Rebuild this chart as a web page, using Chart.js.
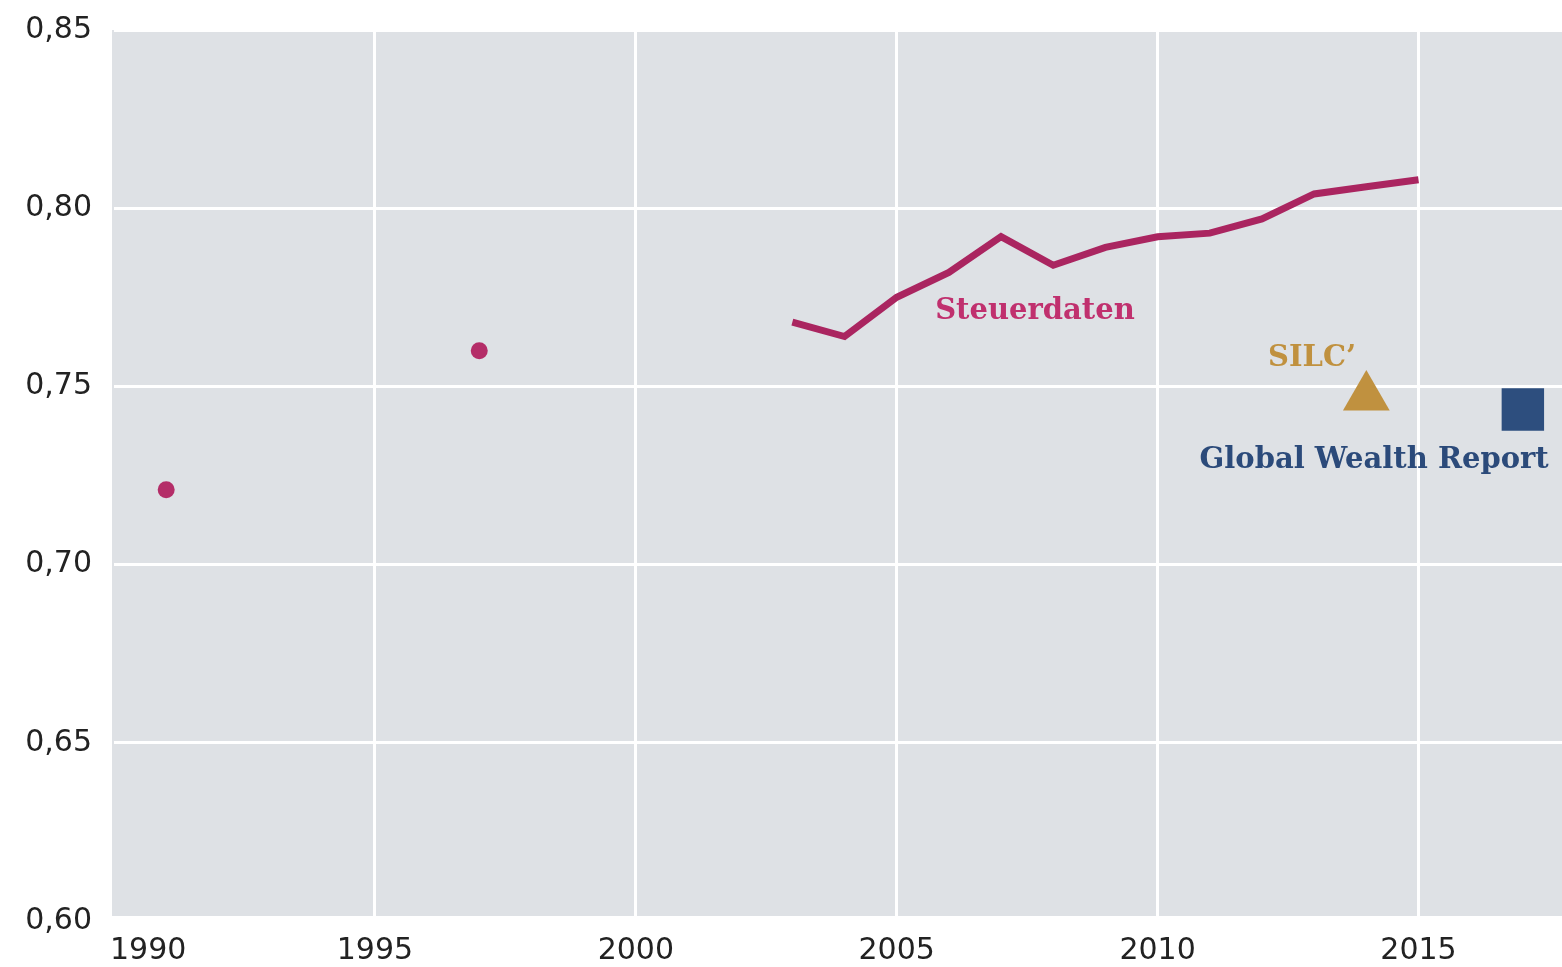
<!DOCTYPE html>
<html>
<head>
<meta charset="utf-8">
<script src="https://cdn.jsdelivr.net/npm/chart.js@4.4.1/dist/chart.umd.min.js"></script>
<style>
  html, body { margin: 0; padding: 0; background: #ffffff; overflow: hidden; }
  #wrap { width: 1562px; height: 967px; position: relative; overflow: hidden; }
  #c { position: absolute; left: 0; top: -10px; }
</style>
</head>
<body>
<div id="wrap"><canvas id="c" width="1592" height="977"></canvas></div>
<script>
// ---- Data ----
const steuerYears  = [2003, 2004, 2005, 2006, 2007, 2008, 2009, 2010, 2011, 2012, 2013, 2014, 2015];
const steuerValues = [0.768, 0.764, 0.775, 0.782, 0.792, 0.784, 0.789, 0.792, 0.793, 0.797, 0.804, 0.806, 0.808];
const earlyYears   = [1991, 1997];
const earlyValues  = [0.721, 0.760];
const silcYears    = [2014];
const silcValues   = [0.747];
const gwrYears     = [2017];
const gwrValues    = [0.7435];
const xTickValues  = [1990, 1995, 2000, 2005, 2010, 2015];
const xTickLabels  = ['1990', '1995', '2000', '2005', '2010', '2015'];
const yTickValues  = [0.60, 0.65, 0.70, 0.75, 0.80, 0.85];
const yTickLabels  = ['0,60', '0,65', '0,70', '0,75', '0,80', '0,85'];
const annotations  = [
  { text: 'Steuerdaten',           x: 2007.65, y: 0.7710, color: '#c0306e' },
  { text: 'SILC\u2019',            x: 2012.96, y: 0.7579, color: '#c0913f' },
  { text: 'Global Wealth Report',  x: 2014.15, y: 0.7293, color: '#2b4a7a' }
];

const toXY = (xs, ys) => xs.map((x, i) => ({ x: x, y: ys[i] }));

const bgPlugin = {
  id: 'bg',
  beforeDraw(chart) {
    const a = chart.chartArea, ctx = chart.ctx;
    ctx.save();
    ctx.fillStyle = '#dee1e5';
    ctx.fillRect(a.left - 2, a.top, a.right - a.left + 2, a.bottom - a.top - 5);
    ctx.restore();
  }
};

const labelPlugin = {
  id: 'labels',
  afterDraw(chart) {
    const ctx = chart.ctx, xs = chart.scales.x, ys = chart.scales.y;
    ctx.save();
    // x tick labels
    ctx.font = '30px "DejaVu Sans", sans-serif';
    ctx.fillStyle = '#222222';
    ctx.textBaseline = 'middle';
    const labelY = chart.chartArea.bottom + 30;
    xTickValues.forEach((v, i) => {
      const px = xs.getPixelForValue(v);
      if (i === 0) { ctx.textAlign = 'left'; ctx.fillText(xTickLabels[i], px - 4, labelY); }
      else { ctx.textAlign = 'center'; ctx.fillText(xTickLabels[i], px, labelY); }
    });
    // annotations
    ctx.font = 'bold 29px "DejaVu Serif", serif';
    ctx.textAlign = 'center';
    annotations.forEach(a => {
      ctx.fillStyle = a.color;
      ctx.fillText(a.text, xs.getPixelForValue(a.x), ys.getPixelForValue(a.y));
    });
    ctx.restore();
  }
};

new Chart(document.getElementById('c'), {
  type: 'line',
  data: {
    datasets: [
      {
        label: 'Steuerdaten',
        data: toXY(steuerYears, steuerValues),
        borderColor: '#aa2560',
        borderWidth: 7,
        pointRadius: 0,
        tension: 0,
        fill: false
      },
      {
        label: 'Steuerdaten (früher)',
        data: toXY(earlyYears, earlyValues),
        showLine: false,
        pointRadius: 8.5,
        pointBackgroundColor: '#b42d68',
        pointBorderWidth: 0
      },
      {
        label: 'SILC',
        data: toXY(silcYears, silcValues),
        showLine: false,
        pointStyle: 'triangle',
        pointRadius: 27,
        pointBackgroundColor: '#c0913f',
        pointBorderWidth: 0
      },
      {
        label: 'Global Wealth Report',
        data: toXY(gwrYears, gwrValues),
        showLine: false,
        pointStyle: 'rect',
        pointRadius: 30,
        pointBackgroundColor: '#2d4e7e',
        pointBorderWidth: 0
      }
    ]
  },
  options: {
    responsive: false,
    animation: false,
    layout: { padding: { top: 0, right: 0, left: 0, bottom: 0 } },
    plugins: { legend: { display: false }, tooltip: { enabled: false } },
    scales: {
      x: {
        type: 'linear',
        min: 1990,
        max: 2017.75,
        border: { display: false },
        grid: {
          color: (c) => (c.tick && c.tick.value === 1990) ? 'rgba(0,0,0,0)' : '#ffffff',
          lineWidth: 3,
          drawTicks: false
        },
        ticks: { stepSize: 5, includeBounds: false, display: false },
        afterFit(s) { s.height = 46; }
      },
      y: {
        min: 0.60,
        max: 0.85,
        border: { display: false },
        grid: { color: '#ffffff', lineWidth: 3, drawTicks: false },
        ticks: {
          stepSize: 0.05,
          padding: 22,
          color: '#222222',
          font: { family: '"DejaVu Sans", sans-serif', size: 30 },
          callback: (v) => {
            const i = yTickValues.findIndex(t => Math.abs(t - v) < 1e-6);
            return i >= 0 ? yTickLabels[i] : '';
          }
        },
        afterFit(s) { s.width = 114; }
      }
    }
  },
  plugins: [bgPlugin, labelPlugin]
});
</script>
</body>
</html>
